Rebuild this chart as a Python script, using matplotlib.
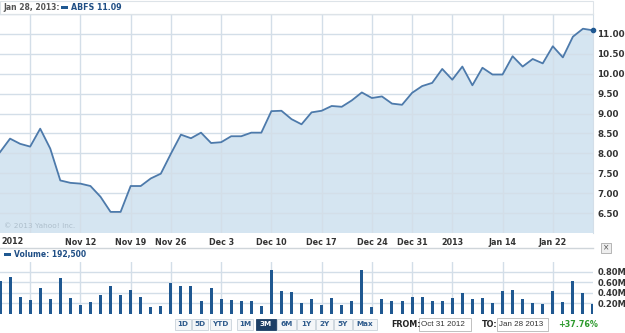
import matplotlib.pyplot as plt
from matplotlib.patches import Rectangle

# trading days shown (Oct 31 2012 .. Jan 28 2013)
dates = ["Oct 31", "Nov 1", "Nov 2", "Nov 5", "Nov 6", "Nov 7", "Nov 8", "Nov 9",
         "Nov 12", "Nov 13", "Nov 14", "Nov 15", "Nov 16", "Nov 19", "Nov 20", "Nov 21",
         "Nov 23", "Nov 26", "Nov 27", "Nov 28", "Nov 29", "Nov 30", "Dec 3", "Dec 4",
         "Dec 5", "Dec 6", "Dec 7", "Dec 10", "Dec 11", "Dec 12", "Dec 13", "Dec 14",
         "Dec 17", "Dec 18", "Dec 19", "Dec 20", "Dec 21", "Dec 24", "Dec 26", "Dec 27",
         "Dec 28", "Dec 31", "Jan 2", "Jan 3", "Jan 4", "Jan 7", "Jan 8", "Jan 9",
         "Jan 10", "Jan 11", "Jan 14", "Jan 15", "Jan 16", "Jan 17", "Jan 18", "Jan 22",
         "Jan 23", "Jan 24", "Jan 25", "Jan 28"]

prices = [8.03, 8.37, 8.24, 8.17, 8.62, 8.12, 7.32, 7.26, 7.24, 7.18,
          6.91, 6.53, 6.53, 7.18, 7.18, 7.37, 7.49, 7.99, 8.47, 8.38,
          8.52, 8.26, 8.28, 8.43, 8.43, 8.52, 8.52, 9.06, 9.07, 8.86,
          8.73, 9.03, 9.07, 9.19, 9.17, 9.33, 9.53, 9.39, 9.43, 9.25,
          9.22, 9.52, 9.69, 9.77, 10.12, 9.85, 10.18, 9.71, 10.15, 9.98,
          9.98, 10.44, 10.18, 10.37, 10.26, 10.69, 10.41, 10.93, 11.13, 11.09]

volumes = [0.615, 0.70, 0.32, 0.27, 0.49, 0.28, 0.67, 0.31, 0.17, 0.22,
           0.36, 0.53, 0.36, 0.46, 0.32, 0.13, 0.15, 0.58, 0.52, 0.52,
           0.24, 0.49, 0.28, 0.26, 0.25, 0.24, 0.15, 0.82, 0.43, 0.41,
           0.20, 0.28, 0.17, 0.30, 0.17, 0.24, 0.83, 0.13, 0.28, 0.25,
           0.25, 0.32, 0.32, 0.24, 0.25, 0.30, 0.39, 0.28, 0.30, 0.20,
           0.43, 0.46, 0.28, 0.20, 0.19, 0.43, 0.22, 0.62, 0.39, 0.1925]

grid_dates = ["Nov 5", "Nov 12", "Nov 19", "Nov 26", "Dec 3", "Dec 10", "Dec 17",
              "Dec 24", "Dec 31", "Jan 7", "Jan 14", "Jan 22"]
grid_labels = ["", "Nov 12", "Nov 19", "Nov 26", "Dec 3", "Dec 10", "Dec 17",
               "Dec 24", "Dec 31", "2013", "Jan 14", "Jan 22"]
price_ticks = [6.5, 7.0, 7.5, 8.0, 8.5, 9.0, 9.5, 10.0, 10.5, 11.0]
vol_ticks = [0.2, 0.4, 0.6, 0.8]

ranges = ["1D", "5D", "YTD", "1M", "3M", "6M", "1Y", "2Y", "5Y", "Max"]

LINE = '#4d7aab'
FILL = '#d5e5f1'
BAR = '#1f5891'
GRID = '#d3dee8'
TXT = '#333333'

W, H = 625, 333
fig = plt.figure(figsize=(6.25, 3.33), dpi=100)


def fx(px):
    return px / W


def fy(py):
    return 1 - py / H


x = list(range(len(dates)))
gx = [dates.index(d) for d in grid_dates]

# price panel
ax = fig.add_axes([0, fy(233), fx(593), (233 - 14) / H])
ax.fill_between(x, prices, 0, color=FILL, lw=0, zorder=1)
ax.plot(x, prices, color=LINE, lw=1.3, zorder=3)
ax.plot(x[-1], prices[-1], 'o', color='#1f5891', ms=3, zorder=4, clip_on=False)
ax.set_xlim(0, len(dates) - 1)
ax.set_ylim(6.0, 11.48)
ax.set_xticks(gx)
ax.set_xticklabels(grid_labels)
ax.set_yticks(price_ticks + [11.5])
ax.set_yticklabels(['%.2f' % v for v in price_ticks] + [''])
ax.yaxis.tick_right()
ax.grid(True, color=GRID, lw=1, zorder=2)
ax.set_axisbelow(False)
for g in ax.get_xgridlines() + ax.get_ygridlines():
    g.set_zorder(2)
ax.tick_params(length=0, labelsize=6.3, colors=TXT, pad=3)
ax.tick_params(axis='x', labelsize=5.8, pad=3.5)
for t in ax.get_xticklabels() + ax.get_yticklabels():
    t.set_fontweight('bold')
for s in ax.spines.values():
    s.set_color(GRID)
ax.spines['left'].set_visible(False)
ax.spines['bottom'].set_visible(False)
ax.text(0.007, 0.025, '\u00a9 2013 Yahoo! Inc.', transform=ax.transAxes,
        fontsize=5.3, color='#aebfcc', zorder=5)
fig.text(fx(1), fy(241), '2012', fontsize=5.8, fontweight='bold', color=TXT, va='center')

# header box
fig.patches.append(Rectangle((0, fy(14)), fx(593), (14 - 1) / H, transform=fig.transFigure,
                             fill=False, ec='#dde3e8', lw=0.8))
fig.text(fx(3), fy(7.5), 'Jan 28, 2013:', fontsize=5.5, fontweight='bold', color='#555555', va='center')
fig.patches.append(Rectangle((fx(61), fy(9)), fx(7), 3 / H, transform=fig.transFigure,
                             color=BAR, lw=0))
fig.text(fx(71), fy(7.5), 'ABFS 11.09', fontsize=5.7, fontweight='bold', color='#1f4e85', va='center')

# separator under date labels
fig.lines.append(plt.Line2D([0, fx(593)], [fy(247.5), fy(247.5)], transform=fig.transFigure,
                            color='#cfd5da', lw=1))

# volume panel
av = fig.add_axes([0, fy(314), fx(593), (314 - 262) / H])
av.bar(x, volumes, width=0.3, color=BAR, zorder=3)
av.set_xlim(0, len(dates) - 1)
av.set_ylim(0, 0.98)
av.set_xticks(gx)
av.set_xticklabels([])
av.set_yticks(vol_ticks)
av.set_yticklabels(['%.2fM' % v for v in vol_ticks])
av.yaxis.tick_right()
av.grid(True, color=GRID, lw=1, zorder=1)
av.tick_params(length=0, labelsize=6.0, colors=TXT, pad=3)
for t in av.get_yticklabels():
    t.set_fontweight('bold')
for s in av.spines.values():
    s.set_visible(False)
fig.patches.append(Rectangle((fx(4), fy(255.5)), fx(7), 3 / H, transform=fig.transFigure,
                             color=BAR, lw=0))
fig.text(fx(14), fy(254), 'Volume: 192,500', fontsize=5.5, fontweight='bold', color='#1f4e85', va='center')
fig.patches.append(Rectangle((fx(601), fy(253)), fx(10), 10 / H, transform=fig.transFigure,
                             fc='#eeeeee', ec='#aaaaaa', lw=0.6))
fig.text(fx(606), fy(248), '\u00d7', fontsize=5.5, color='#555555', ha='center', va='center')

# range buttons
btn_x = [175, 192, 210, 237, 256, 277, 297, 316, 334, 353]
btn_w = [16, 16, 21, 16, 20, 19, 18, 17, 18, 24]
for lab, bx, bw in zip(ranges, btn_x, btn_w):
    sel = lab == "3M"
    fig.patches.append(Rectangle((fx(bx), fy(330)), fx(bw), 11 / H, transform=fig.transFigure,
                                 fc='#1d3f66' if sel else '#f4f6f8',
                                 ec='#1d3f66' if sel else '#c9d2da', lw=0.6))
    fig.text(fx(bx + bw / 2), fy(324.5), lab, fontsize=5.2, fontweight='bold',
             color='white' if sel else '#2f5b8c', ha='center', va='center')

fig.text(fx(391), fy(324.5), 'FROM:', fontsize=5.8, fontweight='bold', color='#222222', va='center')
fig.patches.append(Rectangle((fx(419), fy(331)), fx(52), 13 / H, transform=fig.transFigure,
                             fc='white', ec='#b5b5b5', lw=0.6))
fig.text(fx(421), fy(324.5), 'Oct 31 2012', fontsize=5.8, color='#333333', va='center',
         family='Liberation Sans')
fig.text(fx(482), fy(324.5), 'TO:', fontsize=5.8, fontweight='bold', color='#222222', va='center')
fig.patches.append(Rectangle((fx(497), fy(331)), fx(51), 13 / H, transform=fig.transFigure,
                             fc='white', ec='#b5b5b5', lw=0.6))
fig.text(fx(499), fy(324.5), 'Jan 28 2013', fontsize=5.8, color='#333333', va='center',
         family='Liberation Sans')
fig.text(fx(558), fy(324.5), '+37.76%', fontsize=5.8, fontweight='bold', color='#2d9a2d', va='center')

fig.savefig('out.png', dpi=100)
